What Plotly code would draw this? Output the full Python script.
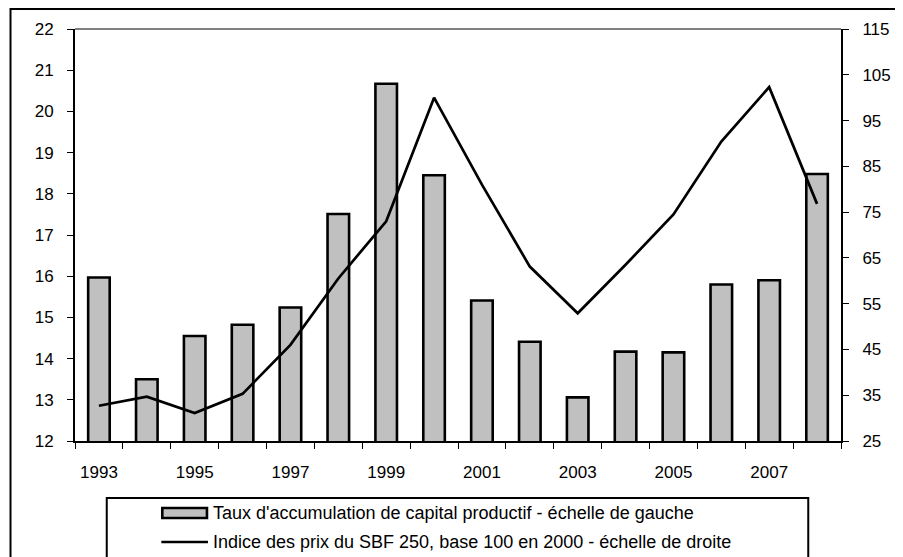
import plotly.graph_objects as go

years = [str(y) for y in range(1993, 2009)]
taux_accumulation = [15.97, 13.5, 14.55, 14.82, 15.24, 17.51, 20.67, 18.45,
                     15.41, 14.41, 13.06, 14.17, 14.15, 15.8, 15.9, 18.48]
indice_sbf250 = [32.7, 34.7, 31.1, 35.3, 46.0, 60.5, 73.0, 100.0,
                 81.0, 63.1, 52.9, 63.5, 74.5, 90.4, 102.3, 76.8]

tick_text = [y if int(y) % 2 == 1 else "" for y in years]
legend_labels = ["Taux d'accumulation de capital productif - échelle de gauche",
                 "Indice des prix du SBF 250, base 100 en 2000 - échelle de droite"]

# la page html ajoute une marge de 8 px autour de la figure
OFF = 8
W, H = 903 - OFF, 557 - OFF
L, R, T, B = 75 - OFF, 847 - OFF, 29 - OFF, 441 - OFF


# conversion pixels (fenêtre) -> coordonnées papier
def px(x):
    return (x - OFF - L) / (R - L)


def py(y):
    return (B - (y - OFF)) / (B - T)


font = dict(family="Liberation Sans, Arial", size=17, color="black")
legend_font = dict(family="Liberation Sans, Arial", size=18, color="black")

fig = go.Figure()

fig.add_trace(go.Bar(
    x=years, y=taux_accumulation,
    marker=dict(color="#C0C0C0", line=dict(color="black", width=2.6)),
    name=legend_labels[0],
))

fig.add_trace(go.Scatter(
    x=years, y=indice_sbf250, yaxis="y2",
    mode="lines", line=dict(color="black", width=2.7),
    name=legend_labels[1],
))

shapes = [
    # cadre extérieur
    dict(type="rect", xref="paper", yref="paper",
         x0=px(10), x1=px(930), y0=py(580), y1=py(9),
         line=dict(color="black", width=2)),
    # bord supérieur de la zone de tracé
    dict(type="line", xref="paper", yref="paper",
         x0=0, x1=1, y0=1, y1=1, line=dict(color="black", width=1)),
    # cadre de la légende
    dict(type="rect", xref="paper", yref="paper",
         x0=px(107), x1=px(814), y0=py(580), y1=py(498),
         line=dict(color="black", width=2)),
    # symboles de la légende
    dict(type="rect", xref="paper", yref="paper",
         x0=px(163), x1=px(208), y0=py(518), y1=py(508),
         fillcolor="#C0C0C0", line=dict(color="black", width=2.6)),
    dict(type="line", xref="paper", yref="paper",
         x0=px(162), x1=px(209), y0=py(542), y1=py(542),
         line=dict(color="black", width=2.7)),
]

annotations = [
    dict(xref="paper", yref="paper", x=px(212), y=py(513), text=legend_labels[0],
         showarrow=False, xanchor="left", yanchor="middle", font=legend_font),
    dict(xref="paper", yref="paper", x=px(212), y=py(542), text=legend_labels[1],
         showarrow=False, xanchor="left", yanchor="middle", font=legend_font),
]

fig.update_layout(
    width=W, height=H,
    margin=dict(l=L, r=W - R, t=T, b=H - B),
    paper_bgcolor="white", plot_bgcolor="white",
    font=font,
    showlegend=False,
    bargap=0.55,
    shapes=shapes,
    annotations=annotations,
    xaxis=dict(
        type="category",
        tickmode="array", tickvals=years, ticktext=tick_text,
        tickson="boundaries",
        ticks="outside", ticklen=6, tickwidth=1, tickcolor="black",
        showline=True, linecolor="black", linewidth=2,
        showgrid=False, ticklabelstandoff=15,
    ),
    yaxis=dict(
        range=[12, 22], dtick=1,
        ticks="outside", ticklen=6, tickwidth=1, tickcolor="black",
        showline=True, linecolor="black", linewidth=2,
        showgrid=False, zeroline=False, ticklabelstandoff=10,
    ),
    yaxis2=dict(
        range=[25, 115], tick0=25, dtick=10, overlaying="y", side="right",
        ticks="outside", ticklen=6, tickwidth=1, tickcolor="black",
        showline=True, linecolor="black", linewidth=2,
        showgrid=False, zeroline=False, ticklabelstandoff=10,
    ),
)

fig.write_html("out.html")
